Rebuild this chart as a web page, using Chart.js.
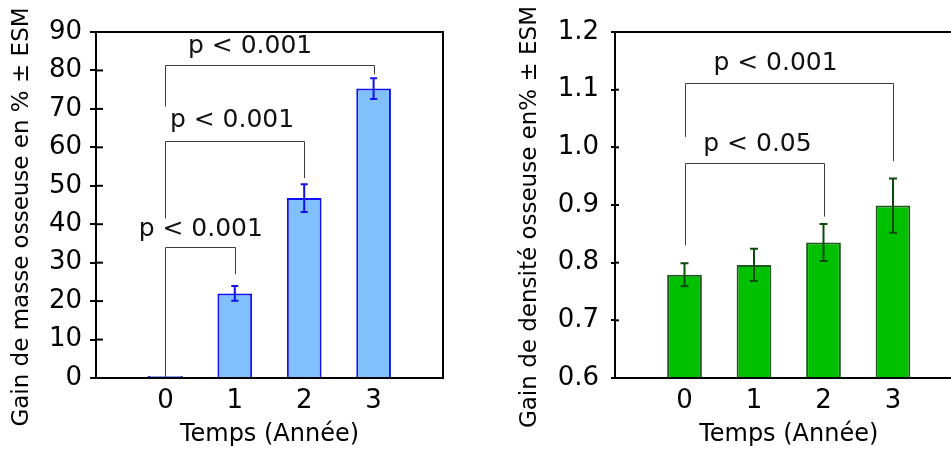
<!DOCTYPE html>
<html>
<head>
<meta charset="utf-8">
<script src="https://cdn.jsdelivr.net/npm/chart.js@4.4.0/dist/chart.umd.min.js"></script>
<style>
    html, body { margin: 0; padding: 0; background: #fff; overflow: hidden; width: 951px; height: 450px; }
    #leftBox { position: absolute; left: 0; top: 0; }
    #rightBox { position: absolute; left: 480px; top: 0; }
</style>
</head>
<body>
<div id="leftBox"><canvas id="massChart" width="480" height="450"></canvas></div>
<div id="rightBox"><canvas id="densityChart" width="500" height="450"></canvas></div>
<script>
// empty slots at both ends so the four years sit in the middle like the original
const years = ['', '0', '1', '2', '3', ''];

const massGain = [null, 0, 22, 46.8, 75.3, null];
const massErr = [null, 0, 1.9, 3.6, 2.7, null];

const densityGain = [null, 0.779, 0.796, 0.835, 0.899, null];
const densityErr = [null, 0.02, 0.028, 0.032, 0.047, null];

const massTicks = { min: 0, max: 90, step: 10 };
const densityTicks = { min: 0.6, max: 1.2, step: 0.1 };

// significance brackets: from year, to year, bracket height, left leg end, right leg end
const massBrackets = [
    { from: 0, to: 1, top: 34.2, leftEnd: 0, rightEnd: 27, label: 'p < 0.001', labelAt: 0.51, labelY: 38.5 },
    { from: 0, to: 2, top: 61.7, leftEnd: 41.5, rightEnd: 52, label: 'p < 0.001', labelAt: 0.96, labelY: 67 },
    { from: 0, to: 3, top: 81.4, leftEnd: 70.6, rightEnd: 79, label: 'p < 0.001', labelAt: 1.22, labelY: 86.2 },
];
const densityBrackets = [
    { from: 0, to: 2, top: 0.973, leftEnd: 0.83, rightEnd: 0.88, label: 'p < 0.05', labelAt: 1.05, labelY: 1.005 },
    { from: 0, to: 3, top: 1.111, leftEnd: 1.018, rightEnd: 0.976, label: 'p < 0.001', labelAt: 1.31, labelY: 1.145 },
];

const FONT = '"DejaVu Sans", Verdana, sans-serif';
Chart.defaults.font.family = FONT;
Chart.defaults.color = '#000';

// error bars, brackets, frame, inner ticks and the y title (placed lower than chart.js would)
const extrasPlugin = {
    id: 'extras',
    afterDatasetsDraw(chart, args, opts) {
        const ctx = chart.ctx;
        const x = chart.scales.x;
        const y = chart.scales.y;
        const area = chart.chartArea;
        const xAt = yr => x.getPixelForValue(yr + 1);

        ctx.save();

        // error bars
        ctx.strokeStyle = opts.errColor;
        ctx.lineWidth = 2;
        opts.values.forEach((v, i) => {
            const e = opts.errors[i];
            if (v === null || !e) return;
            const px = x.getPixelForValue(i);
            const hi = y.getPixelForValue(v + e);
            const lo = y.getPixelForValue(v - e);
            ctx.beginPath();
            ctx.moveTo(px, hi); ctx.lineTo(px, lo);
            ctx.moveTo(px - opts.cap, hi); ctx.lineTo(px + opts.cap, hi);
            ctx.moveTo(px - opts.cap, lo); ctx.lineTo(px + opts.cap, lo);
            ctx.stroke();
        });

        // brackets
        ctx.strokeStyle = '#3c3c3c';
        ctx.lineWidth = 1;
        opts.brackets.forEach(b => {
            const x1 = Math.round(xAt(b.from)) + 0.5;
            const x2 = Math.round(xAt(b.to)) + 0.5;
            const yt = Math.round(y.getPixelForValue(b.top)) + 0.5;
            ctx.beginPath();
            ctx.moveTo(x1, y.getPixelForValue(b.leftEnd));
            ctx.lineTo(x1, yt);
            ctx.lineTo(x2, yt);
            ctx.lineTo(x2, y.getPixelForValue(b.rightEnd));
            ctx.stroke();
        });
        ctx.fillStyle = '#111';
        ctx.font = '25px ' + FONT;
        ctx.textAlign = 'center';
        ctx.textBaseline = 'middle';
        opts.brackets.forEach(b => {
            ctx.fillText(b.label, xAt(b.labelAt), y.getPixelForValue(b.labelY));
        });

        // inner tick marks on the y axis
        ctx.strokeStyle = '#000';
        ctx.lineWidth = 2;
        y.ticks.forEach(t => {
            const py = y.getPixelForValue(t.value);
            ctx.beginPath();
            ctx.moveTo(area.left, py);
            ctx.lineTo(area.left + opts.innerTick, py);
            ctx.stroke();
        });

        // frame
        ctx.strokeRect(area.left, area.top, area.right - area.left, area.bottom - area.top);

        // y title
        ctx.translate(opts.titleX, opts.titleY);
        ctx.rotate(-Math.PI / 2);
        ctx.fillStyle = '#000';
        ctx.font = '23px ' + FONT;
        ctx.fillText(opts.title, 0, 0);
        ctx.restore();
    }
};

function makeOptions(tickCfg, yWidth, tickLen, tickPad, rightPad, extras) {
    return {
        responsive: false,
        animation: false,
        layout: { padding: { top: 32, right: rightPad, bottom: 0, left: 0 } },
        plugins: { legend: { display: false }, tooltip: { enabled: false }, extras: extras },
        scales: {
            x: {
                offset: false,
                grid: { display: false, drawTicks: false },
                border: { display: false },
                ticks: { font: { size: 26 }, padding: 8, maxRotation: 0, autoSkip: false },
                title: { display: true, text: 'Temps (Année)', font: { size: 24 }, padding: { top: 0, bottom: 1 } },
                afterFit: scale => { scale.height = 72; }
            },
            y: {
                min: tickCfg.min,
                max: tickCfg.max,
                grid: { drawOnChartArea: false, color: '#000', lineWidth: 2, tickLength: tickLen },
                border: { display: false },
                ticks: {
                    stepSize: tickCfg.step,
                    font: { size: 26 },
                    padding: tickPad,
                    callback: v => tickCfg.step < 1 ? Number(v).toFixed(1) : v
                },
                afterFit: scale => { scale.width = yWidth; }
            }
        }
    };
}

new Chart(document.getElementById('massChart').getContext('2d'), {
    type: 'bar',
    data: {
        labels: years,
        datasets: [{
            data: massGain,
            backgroundColor: '#80c0ff',
            borderColor: '#1010f0',
            borderWidth: 2,
            minBarLength: 2,
            barPercentage: 0.5,
            categoryPercentage: 1
        }]
    },
    options: makeOptions(massTicks, 96, 6, 8, 37, {
        values: massGain, errors: massErr, errColor: '#1010f0', cap: 3.5, innerTick: 7, brackets: massBrackets,
        title: 'Gain de masse osseuse en % ± ESM', titleX: 22, titleY: 217
    }),
    plugins: [extrasPlugin]
});

new Chart(document.getElementById('densityChart').getContext('2d'), {
    type: 'bar',
    data: {
        labels: years,
        datasets: [{
            data: densityGain,
            backgroundColor: '#00c000',
            borderColor: '#1e5a1e',
            borderWidth: 2,
            barPercentage: 0.5,
            categoryPercentage: 1
        }]
    },
    options: makeOptions(densityTicks, 135, 4, 12, 17.5, {
        values: densityGain, errors: densityErr, errColor: '#0a4a0a', cap: 4, innerTick: 4, brackets: densityBrackets,
        title: 'Gain de densité osseuse en% ± ESM', titleX: 50, titleY: 217
    }),
    plugins: [extrasPlugin]
});
</script>
</body>
</html>
